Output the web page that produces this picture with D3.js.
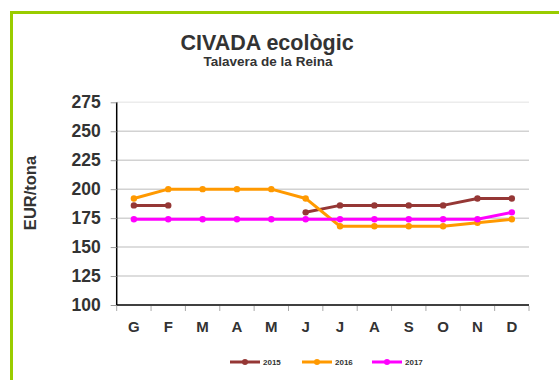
<!DOCTYPE html>
<html>
<head>
<meta charset="utf-8">
<script src="https://cdn.jsdelivr.net/npm/d3@7"></script>
<style>
  html, body { margin: 0; padding: 0; background: #fff; }
  svg { display: block; font-family: "Liberation Sans", Arial, sans-serif; }
</style>
</head>
<body>
<svg id="chart" width="559" height="380"></svg>
<script>
// Monthly prices of organic oats (EUR/tona), Talavera de la Reina
const months = ["G", "F", "M", "A", "M", "J", "J", "A", "S", "O", "N", "D"];
const values2015 = [186, 186, null, null, null, 180, 186, 186, 186, 186, 192, 192];
const values2016 = [192, 200, 200, 200, 200, 192, 168, 168, 168, 168, 171, 174];
const values2017 = [174, 174, 174, 174, 174, 174, 174, 174, 174, 174, 174, 180];
const yTicks = [100, 125, 150, 175, 200, 225, 250, 275];
const seriesNames = ["2015", "2016", "2017"];
const seriesColors = ["#953735", "#ff9900", "#ff00ff"];

const series = [values2015, values2016, values2017].map((vals, i) => ({
  name: seriesNames[i], color: seriesColors[i],
  points: vals.map((v, j) => ({ i: j, v }))
}));

const svg = d3.select("#chart");

// green frame
svg.append("path")
  .attr("d", "M11.5,380 L11.5,12.5 L560,12.5")
  .attr("fill", "none").attr("stroke", "#99cc00").attr("stroke-width", 3);

const plot = { left: 116.7, right: 529, top: 102.3, bottom: 305 };

const x = d3.scaleBand().domain(d3.range(months.length)).range([plot.left, plot.right]);
const y = d3.scaleLinear().domain([100, 275]).range([plot.bottom, plot.top]);

// titles
svg.append("text").attr("x", 267).attr("y", 50).attr("text-anchor", "middle")
  .attr("font-size", 21.5).attr("font-weight", "bold").attr("fill", "#333")
  .text("CIVADA ecològic");
svg.append("text").attr("x", 268).attr("y", 66).attr("text-anchor", "middle")
  .attr("font-size", 13.5).attr("font-weight", "bold").attr("fill", "#333")
  .text("Talavera de la Reina");

// gridlines
svg.append("g").selectAll("line").data(yTicks.filter(t => t > 100)).join("line")
  .attr("x1", plot.left).attr("x2", plot.right)
  .attr("y1", d => y(d)).attr("y2", d => y(d))
  .attr("stroke", d => d === 275 ? "#ececec" : "#d2d2d2").attr("stroke-width", 1.5);

// y axis
const yAxis = svg.append("g").attr("transform", `translate(${plot.left},0)`)
  .call(d3.axisLeft(y).tickValues(yTicks).tickSize(6).tickPadding(10));
yAxis.select(".domain").attr("stroke", "#000").attr("stroke-width", 1.5)
  .attr("d", `M0,${plot.top}V${plot.bottom}`);
yAxis.selectAll(".tick line").attr("stroke", "#999");
yAxis.selectAll(".tick text").attr("font-size", 17.5).attr("font-weight", "bold")
  .attr("fill", "#333").attr("font-family", "Liberation Sans, Arial, sans-serif");

// x axis with ticks on band boundaries
const xAxisG = svg.append("g").attr("transform", `translate(0,${plot.bottom})`);
xAxisG.append("line").attr("x1", plot.left).attr("x2", plot.right)
  .attr("stroke", "#000").attr("stroke-width", 1.5);
xAxisG.selectAll("line.tk").data(d3.range(months.length + 1)).join("line")
  .attr("class", "tk")
  .attr("x1", d => plot.left + d * x.step()).attr("x2", d => plot.left + d * x.step())
  .attr("y1", 1).attr("y2", 6).attr("stroke", "#aaa");
xAxisG.selectAll("text").data(months).join("text")
  .attr("x", (d, i) => x(i) + x.bandwidth() / 2).attr("y", 27)
  .attr("text-anchor", "middle").attr("font-size", 15).attr("font-weight", "bold")
  .attr("fill", "#333").text(d => d);

// y axis title
svg.append("text").attr("transform", "translate(36,193) rotate(-90)")
  .attr("text-anchor", "middle").attr("font-size", 16.5).attr("font-weight", "bold")
  .attr("fill", "#333").text("EUR/tona");

// lines
const line = d3.line().defined(d => d.v !== null)
  .x(d => x(d.i) + x.bandwidth() / 2).y(d => y(d.v));

const gSeries = svg.append("g").selectAll("g").data(series).join("g");
gSeries.append("path").attr("d", d => line(d.points)).attr("fill", "none")
  .attr("stroke", d => d.color).attr("stroke-width", 3).attr("stroke-linejoin", "round");
gSeries.each(function (s) {
  d3.select(this).selectAll("circle").data(s.points.filter(p => p.v !== null)).join("circle")
    .attr("cx", p => x(p.i) + x.bandwidth() / 2).attr("cy", p => y(p.v))
    .attr("r", 3.2).attr("fill", s.color);
});

// legend
const legendX = [230, 302, 372];
const legend = svg.append("g").selectAll("g").data(series).join("g")
  .attr("transform", (d, i) => `translate(${legendX[i]},362)`);
legend.append("line").attr("x1", 0).attr("x2", 30).attr("stroke", d => d.color).attr("stroke-width", 3);
legend.append("circle").attr("cx", 15).attr("r", 3).attr("fill", d => d.color);
legend.append("text").attr("x", 33).attr("y", 3).attr("font-size", 8).attr("font-weight", "bold")
  .attr("fill", "#333").text(d => d.name);
</script>
</body>
</html>
